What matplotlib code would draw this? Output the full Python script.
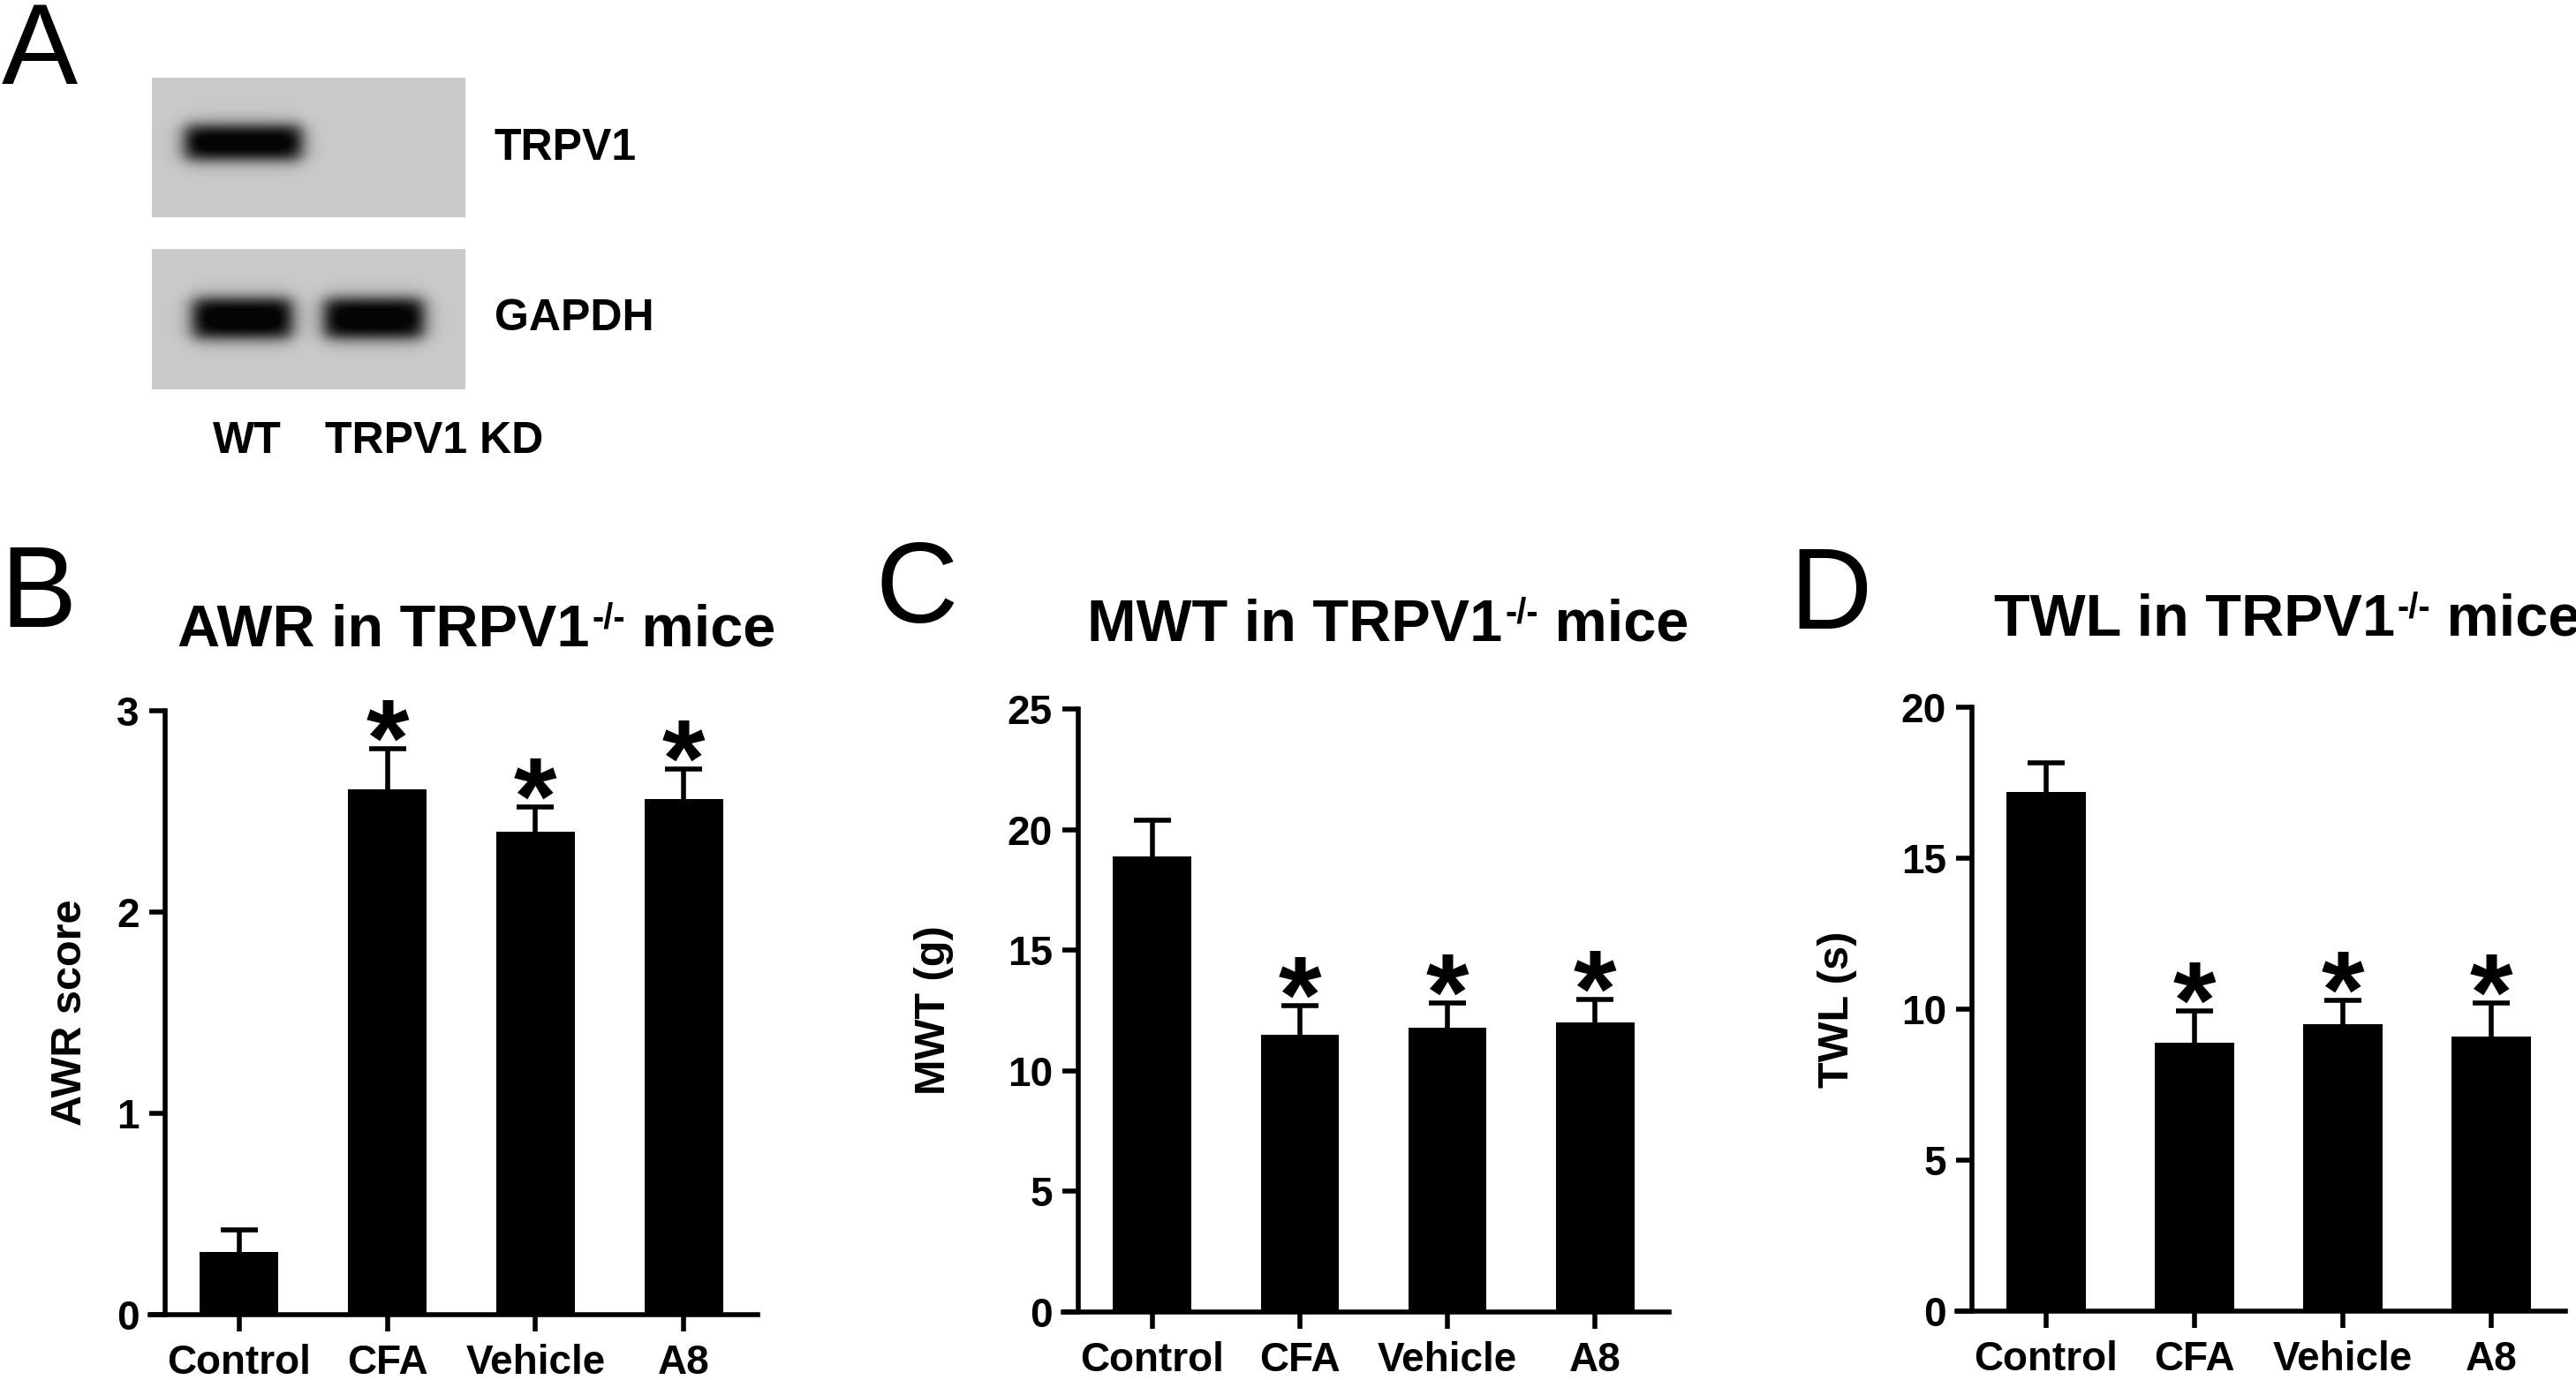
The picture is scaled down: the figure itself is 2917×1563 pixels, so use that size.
import numpy as np
import matplotlib
matplotlib.use("Agg")
import matplotlib.pyplot as plt

plt.rcParams["font.family"] = ["Liberation Sans", "DejaVu Sans"]
plt.rcParams["font.weight"] = "bold"
plt.rcParams["axes.labelweight"] = "bold"

W, H, DPI = 2917, 1563, 100

# data
groups = ["Control", "CFA", "Vehicle", "A8"]
signif = [False, True, True, True]

awr_mean = [0.31, 2.61, 2.40, 2.56]
awr_sem = [0.11, 0.20, 0.12, 0.15]

mwt_mean = [18.9, 11.5, 11.8, 12.0]
mwt_sem = [1.5, 1.2, 1.0, 0.95]

twl_mean = [17.2, 8.9, 9.5, 9.1]
twl_sem = [0.95, 1.05, 0.8, 1.1]

blot_lanes = ["WT", "TRPV1 KD"]
trpv1_band = [1.0, 0.0]
gapdh_band = [1.0, 1.0]


def frac(x0, y0, x1, y1):
    """pixel box (top-left origin) -> figure fraction rect"""
    return [x0 / W, 1 - y1 / H, (x1 - x0) / W, (y1 - y0) / H]


fig = plt.figure(figsize=(W / DPI, H / DPI), dpi=DPI)
fig.patch.set_facecolor("white")
renderer = fig.canvas.get_renderer()


def draw_blot(rect, levels, lane_x, cy, half_w, half_h):
    ax = fig.add_axes(frac(*rect))
    w, h = rect[2] - rect[0], rect[3] - rect[1]
    yy, xx = np.mgrid[0:h, 0:w]
    dark = np.zeros((h, w))
    for cx, lv in zip(lane_x, levels):
        fx = 1 / (1 + np.exp((np.abs(xx - cx) - half_w) / 6.0))
        fy = 1 / (1 + np.exp((np.abs(yy - cy) - half_h) / 5.0))
        dark += lv * fx * fy
    bg = 0.79
    img = bg - (bg - 0.02) * np.clip(dark * 1.1, 0, 1)
    ax.imshow(img, cmap="gray", vmin=0, vmax=1, aspect="auto",
              interpolation="bilinear")
    ax.set_axis_off()
    return ax


# panel A: western blot
draw_blot((172, 88, 527, 246), trpv1_band, [103, 251], 73, 66, 19)
draw_blot((172, 282, 527, 441), gapdh_band, [102, 251], 78, 56, 22)
fig.text(560 / W, 1 - 168 / H, "TRPV1", ha="left", va="center", fontsize=36)
fig.text(560 / W, 1 - 361 / H, "GAPDH", ha="left", va="center", fontsize=36)
for lane, cx in zip(blot_lanes, [280, 492]):
    fig.text(cx / W, 1 - 500 / H, lane, ha="center", va="center", fontsize=36)


def bar_panel(rect, means, sems, ymax, ystep, ylabel, label_x):
    ax = fig.add_axes(frac(*rect))
    x = np.arange(len(groups))
    tops = np.array(means) + np.array(sems)
    ax.bar(x, means, width=0.53, color="black", zorder=2)
    # upward-only SEM bars
    ax.vlines(x, means, tops, color="black", linewidth=4, zorder=1)
    ax.hlines(tops, x - 0.125, x + 0.125, color="black", linewidth=4, zorder=1)
    for xi, t, sig in zip(x, tops, signif):
        if sig:
            ax.annotate("*", (xi, t), xytext=(0, -22), textcoords="offset points",
                        ha="center", va="baseline", fontsize=90, annotation_clip=False)
    ax.set_xlim(-0.5, 3.5)
    ax.set_ylim(0, ymax)
    ax.set_yticks(np.arange(0, ymax + ystep / 2, ystep))
    ax.set_xticks(x, groups)
    ax.spines["top"].set_visible(False)
    ax.spines["right"].set_visible(False)
    ax.spines["left"].set_linewidth(4)
    ax.spines["bottom"].set_linewidth(4)
    ax.spines["bottom"].set_bounds(-0.6, 3.5)
    ax.tick_params(axis="both", direction="out", width=4)
    ax.tick_params(axis="y", length=13, labelsize=33, pad=8)
    ax.tick_params(axis="x", length=14, labelsize=33, pad=10)
    ax.set_ylabel(ylabel, fontsize=35, fontweight="bold")
    ax.yaxis.set_label_coords(label_x, 0.5)
    return ax


bar_panel((187, 805, 858, 1489), awr_mean, awr_sem, 3, 1, "AWR score", -0.127)
bar_panel((1221, 803, 1890, 1486), mwt_mean, mwt_sem, 25, 5, "MWT (g)", -0.211)
bar_panel((2233, 801, 2905, 1485), twl_mean, twl_sem, 20, 5, "TWL (s)", -0.193)


def sup_title(cx, base, head, sup, tail, size=48):
    """title with a small raised '-/-', centred on cx (pixels)"""
    parts = [(head, size, 0), (sup, size * 0.6, size * 0.30), (tail, size, 0)]
    texts = [fig.text(0, 0, s, fontsize=fs, ha="left", va="baseline")
             for s, fs, _ in parts]
    widths = [t.get_window_extent(renderer).width for t in texts]
    gap = 3
    x = cx - (sum(widths) + gap) / 2
    for t, (s, fs, rise), wd in zip(texts, parts, widths):
        t.set_position((x / W, (H - base + rise * DPI / 72) / H))
        x += wd + (gap if t is texts[0] else 0)


sup_title(540, 732, "AWR in TRPV1", "-/-", " mice")
sup_title(1572, 726, "MWT in TRPV1", "-/-", " mice")
sup_title(2590, 720, "TWL in TRPV1", "-/-", " mice")

letters = [("A", 2, 95), ("B", 0, 710), ("C", 992, 705), ("D", 2026, 712)]
for lab, lx, base in letters:
    fig.text(lx / W, 1 - base / H, lab, ha="left", va="baseline",
             fontsize=93, fontweight="normal")

fig.savefig("out.png", dpi=DPI, facecolor="white")
